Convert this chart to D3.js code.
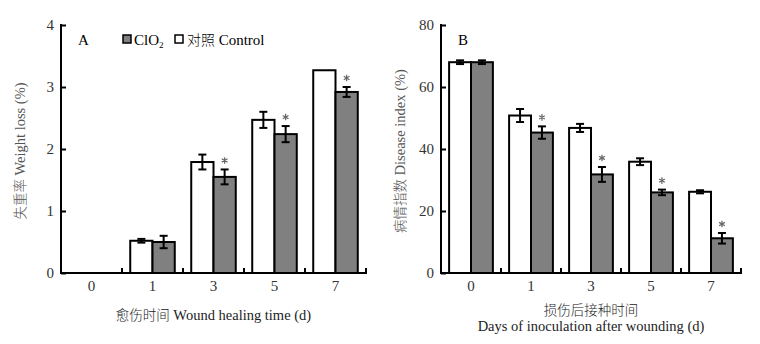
<!DOCTYPE html>
<html>
<head>
    <meta charset="utf-8">
    <script src="https://d3js.org/d3.v7.min.js"></script>
    <style>
        body { margin: 0; background: #fff; }
        text { font-family: "Liberation Serif", "Noto Sans CJK SC", serif; }
        .cjk { font-family: "Noto Sans CJK SC", sans-serif; font-weight: 300; }
    </style>
</head>
<body>
    <svg id="chart" width="760" height="344"></svg>

    <script>
        // categories (days)
        const days = ["0", "1", "3", "5", "7"];

        // Panel A: weight loss (%)
        const weightControl = [0, 0.52, 1.79, 2.47, 3.27];
        const weightControlErr = [0, 0.03, 0.12, 0.13, 0];
        const weightClO2 = [0, 0.5, 1.55, 2.24, 2.92];
        const weightClO2Err = [0, 0.1, 0.12, 0.13, 0.08];
        const weightStars = [false, false, true, true, true];
        const weightTicks = [0, 1, 2, 3, 4];

        // Panel B: disease index (%)
        const diseaseControl = [68, 50.8, 46.8, 35.9, 26.2];
        const diseaseControlErr = [0.6, 2.1, 1.3, 1.1, 0.5];
        const diseaseClO2 = [68, 45.3, 31.8, 26, 11.2];
        const diseaseClO2Err = [0.6, 2.0, 2.4, 0.9, 1.7];
        const diseaseStars = [false, true, true, true, true];
        const diseaseTicks = [0, 20, 40, 60, 80];

        const svg = d3.select("#chart");
        const star = d3.symbol(d3.symbolAsterisk, 30);

        // split a label into CJK / latin runs so the CJK part can get a lighter face
        function mixedText(sel, str) {
            const parts = str.match(/[\u3400-\u9fff]+|[^\u3400-\u9fff]+/g) || [];
            parts.forEach(p => {
                const t = sel.append("tspan").text(p);
                if (/[\u3400-\u9fff]/.test(p)) t.attr("class", "cjk").attr("font-size", "0.93em");
            });
        }

        function drawPanel(opt) {
            const g = svg.append("g");

            const x = d3.scaleBand()
                .domain(days)
                .range([opt.left, opt.right]);

            // two bars per day: control left, ClO2 right
            const x1 = d3.scaleBand()
                .domain(["control", "clo2"])
                .range([0, x.bandwidth()])
                .paddingOuter(0.37)
                .paddingInner(0);

            const y = d3.scaleLinear()
                .domain([0, opt.max])
                .range([273, 25]);

            const rows = days.map((d, i) => ({
                day: d,
                control: opt.control[i], controlErr: opt.controlErr[i],
                clo2: opt.clo2[i], clo2Err: opt.clo2Err[i],
                star: opt.stars[i]
            }));

            const series = [
                { key: "control", fill: "#ffffff" },
                { key: "clo2", fill: "#808080" }
            ];

            // bars
            series.forEach(s => {
                g.selectAll(null)
                    .data(rows.filter(r => r[s.key] > 0))
                    .join("rect")
                    .attr("x", d => x(d.day) + x1(s.key))
                    .attr("y", d => y(d[s.key]))
                    .attr("width", x1.bandwidth())
                    .attr("height", d => y(0) - y(d[s.key]))
                    .attr("fill", s.fill)
                    .attr("stroke", "#000")
                    .attr("stroke-width", 2);
            });

            // error bars
            series.forEach(s => {
                const eb = g.selectAll(null)
                    .data(rows.filter(r => r[s.key] > 0 && r[s.key + "Err"] > 0))
                    .join("g")
                    .attr("stroke", "#000")
                    .attr("stroke-width", 2);
                const cx = d => x(d.day) + x1(s.key) + x1.bandwidth() / 2;
                eb.append("line")
                    .attr("x1", cx).attr("x2", cx)
                    .attr("y1", d => y(d[s.key] - d[s.key + "Err"]))
                    .attr("y2", d => y(d[s.key] + d[s.key + "Err"]));
                [-1, 1].forEach(sign => {
                    eb.append("line")
                        .attr("x1", d => cx(d) - 4).attr("x2", d => cx(d) + 4)
                        .attr("y1", d => y(d[s.key] + sign * d[s.key + "Err"]))
                        .attr("y2", d => y(d[s.key] + sign * d[s.key + "Err"]));
                });
            });

            // significance stars
            g.selectAll(null)
                .data(rows.filter(r => r.star))
                .join("path")
                .attr("transform", d => `translate(${x(d.day) + x1("clo2") + x1.bandwidth() / 2},${y(d.clo2 + d.clo2Err) - 9})`)
                .attr("d", star)
                .attr("fill", "none")
                .attr("stroke", "#666")
                .attr("stroke-width", 1.2);

            // x axis: baseline with inward ticks at category boundaries
            const xAxis = g.append("g");
            xAxis.append("line")
                .attr("x1", opt.left).attr("x2", opt.right + 1)
                .attr("y1", y(0)).attr("y2", y(0))
                .attr("stroke", "#000").attr("stroke-width", 2);
            xAxis.selectAll(null)
                .data(days.slice(1).concat(["end"]))
                .join("line")
                .attr("x1", d => d === "end" ? opt.right : x(d))
                .attr("x2", d => d === "end" ? opt.right : x(d))
                .attr("y1", y(0)).attr("y2", y(0) - 5)
                .attr("stroke", "#000").attr("stroke-width", 2);
            xAxis.selectAll(null)
                .data(days)
                .join("text")
                .attr("x", d => x(d) + x.bandwidth() / 2)
                .attr("y", 291)
                .attr("text-anchor", "middle")
                .attr("font-size", "15px")
                .attr("fill", "#333")
                .text(d => d);

            // y axis with inward ticks
            const yAxis = g.append("g")
                .attr("transform", `translate(${opt.left},0)`)
                .call(d3.axisRight(y).tickValues(opt.ticks).tickSize(5).tickFormat(""));
            yAxis.select(".domain").remove();
            yAxis.selectAll(".tick line").attr("stroke-width", 2);
            g.append("line")
                .attr("x1", opt.left).attr("x2", opt.left)
                .attr("y1", y(opt.max) - 1).attr("y2", y(0) + 1)
                .attr("stroke", "#000").attr("stroke-width", 2);
            g.selectAll(null)
                .data(opt.ticks)
                .join("text")
                .attr("x", opt.left - 7)
                .attr("y", d => y(d) + 5)
                .attr("text-anchor", "end")
                .attr("font-size", "15px")
                .attr("fill", "#333")
                .text(d => d);

            // y title
            g.append("text")
                .attr("transform", `translate(${opt.left - 36},${y(opt.max / 2) + 2}) rotate(-90)`)
                .attr("text-anchor", "middle")
                .attr("font-size", "14.5px")
                .attr("fill", "#555")
                .call(mixedText, opt.yTitle);

            // x title (one or two lines)
            opt.xTitle.forEach((t, i) => {
                g.append("text")
                    .attr("x", (opt.left + opt.right) / 2)
                    .attr("y", opt.xTitleY + i * 16)
                    .attr("text-anchor", "middle")
                    .attr("font-size", "14.5px")
                    .attr("fill", "#222")
                    .call(mixedText, t);
            });

            // panel letter
            g.append("text")
                .attr("x", opt.left + 17)
                .attr("y", 45)
                .attr("font-size", "15px")
                .text(opt.letter);

            return g;
        }

        const panelA = drawPanel({
            left: 61, right: 366, max: 4, ticks: weightTicks,
            control: weightControl, controlErr: weightControlErr,
            clo2: weightClO2, clo2Err: weightClO2Err, stars: weightStars,
            yTitle: "失重率 Weight loss (%)",
            xTitle: ["愈伤时间 Wound healing time (d)"], xTitleY: 320,
            letter: "A"
        });

        drawPanel({
            left: 441, right: 741, max: 80, ticks: diseaseTicks,
            control: diseaseControl, controlErr: diseaseControlErr,
            clo2: diseaseClO2, clo2Err: diseaseClO2Err, stars: diseaseStars,
            yTitle: "病情指数 Disease index (%)",
            xTitle: ["损伤后接种时间", "Days of inoculation after wounding (d)"], xTitleY: 315,
            letter: "B"
        });

        // legend in panel A
        const legend = panelA.append("g").attr("font-size", "15px");
        legend.append("rect").attr("x", 123).attr("y", 35).attr("width", 8).attr("height", 8)
            .attr("fill", "#808080").attr("stroke", "#000").attr("stroke-width", 1.5);
        const clo2Label = legend.append("text").attr("x", 134).attr("y", 45);
        clo2Label.append("tspan").text("ClO");
        clo2Label.append("tspan").attr("font-size", "9px").attr("dy", 3).text("2");
        legend.append("rect").attr("x", 175).attr("y", 35).attr("width", 8).attr("height", 8)
            .attr("fill", "#fff").attr("stroke", "#000").attr("stroke-width", 1.5);
        legend.append("text").attr("x", 187).attr("y", 45).call(mixedText, "对照 Control");
    </script>
</body>
</html>
